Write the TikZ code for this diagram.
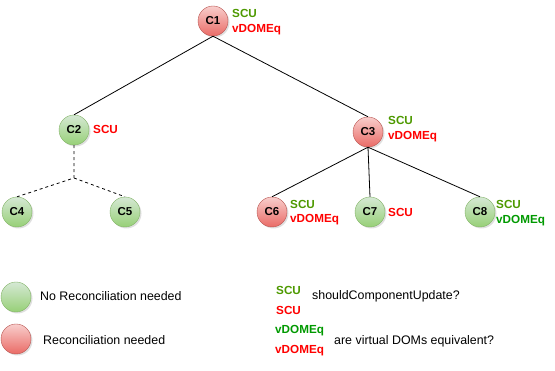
\documentclass[tikz,border=0pt]{standalone}
\usepackage{fontspec}
\setmainfont{Liberation Sans}
\usetikzlibrary{shadows}

\definecolor{okfill}{HTML}{D5E8D4}
\definecolor{okgrad}{HTML}{97D077}
\definecolor{okline}{HTML}{82B366}
\definecolor{badfill}{HTML}{F8CECC}
\definecolor{badgrad}{HTML}{EA6B66}
\definecolor{badline}{HTML}{B85450}
\definecolor{yesgreen}{HTML}{4D9900}
\definecolor{deepgreen}{HTML}{009900}
\definecolor{nored}{HTML}{FF0000}

\begin{document}
\begin{tikzpicture}[x=1pt,y=-1pt,
    comp/.style={circle, minimum size=30pt, inner sep=0pt, font=\fontsize{11.5}{12}\selectfont\bfseries,
        drop shadow={shadow xshift=1.5pt, shadow yshift=-1.5pt, opacity=0.25}},
    ok/.style={comp, draw=okline, top color=okfill, bottom color=okgrad},
    bad/.style={comp, draw=badline, top color=badfill, bottom color=badgrad},
    tag/.style={anchor=west, inner sep=0pt, font=\fontsize{11.7}{12}\selectfont\bfseries},
    legend/.style={anchor=west, inner sep=0pt, font=\fontsize{12.4}{14}\selectfont},
    edge/.style={draw, line width=0.8pt}]
        \useasboundingbox (0,0) rectangle (555,371);

        % components
        \node[bad] (c1) at (213,21) {C1};
        \node[ok] (c2) at (74,130) {C2};
        \node[bad] (c3) at (368,132) {C3};
        \node[ok] (c4) at (17,212) {C4};
        \node[ok] (c5) at (125,212) {C5};
        \node[bad] (c6) at (272,212) {C6};
        \node[ok] (c7) at (370,212) {C7};
        \node[ok] (c8) at (480,212) {C8};
        \coordinate (j) at (74,178);

        % flags next to components
        \node[tag, text=yesgreen] (c1scu) at (232,13) {SCU};
        \node[tag, text=nored] (c1eq) at (232,30) {vDOMEq};
        \node[tag, text=nored] (c2scu) at (93,129) {SCU};
        \node[tag, text=yesgreen] (c3scu) at (388,120) {SCU};
        \node[tag, text=nored] (c3eq) at (388,137) {vDOMEq};
        \node[tag, text=yesgreen] (c6scu) at (290,204) {SCU};
        \node[tag, text=nored] (c6eq) at (290,220) {vDOMEq};
        \node[tag, text=nored] (c7scu) at (388,212) {SCU};
        \node[tag, text=yesgreen] (c8scu) at (496,204) {SCU};
        \node[tag, text=deepgreen] (c8eq) at (496,221) {vDOMEq};

        % tree
        \draw[edge] (c1.south)--(c2.north) (c1.south)--(c3.north);
        \draw[edge] (c3.south)--(c6.north) (c3.south)--(c7.north) (c3.south)--(c8.north);
        \draw[edge, dashed] (c2.south)--(j)--(c4.north) (j)--(c5.north);

        % legend
        \node[ok] (okkey) at (16,297) {};
        \node[legend] (oktext) at (40,296) {No Reconciliation needed};
        \node[bad] (badkey) at (16,339) {};
        \node[legend] (badtext) at (43,340) {Reconciliation needed};

        \node[tag, text=yesgreen] (keyscu) at (276,290) {SCU};
        \node[tag, text=nored] (keynoscu) at (276,310) {SCU};
        \node[legend] (scutext) at (312,296) {shouldComponentUpdate?};
        \node[tag, text=deepgreen] (keyeq) at (275,331) {vDOMEq};
        \node[tag, text=nored] (keynoeq) at (275,351) {vDOMEq};
        \node[legend] (eqtext) at (334,341) {are virtual DOMs equivalent?};
\end{tikzpicture}
\end{document}
